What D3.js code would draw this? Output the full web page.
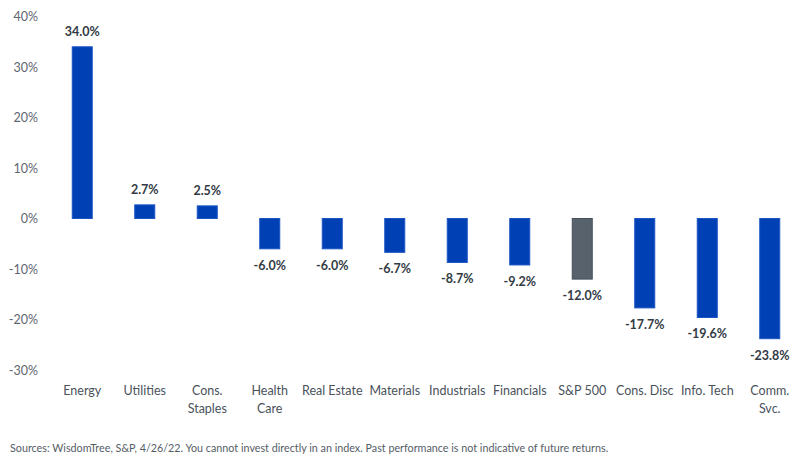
<!DOCTYPE html>
<html>
<head>
<meta charset="utf-8">
<script src="https://cdn.jsdelivr.net/npm/d3@7"></script>
<style>
  body { margin: 0; background: #fff; }
  text { font-family: "Source Sans Pro", "Lato", "Open Sans", sans-serif; }
</style>
</head>
<body>
<div id="chart"></div>
<script>
const categories = ['Energy', 'Utilities', 'Cons. Staples', 'Health Care', 'Real Estate', 'Materials',
  'Industrials', 'Financials', 'S&P 500', 'Cons. Disc', 'Info. Tech', 'Comm. Svc.'];
// label lines as shown under the axis
const categoryLines = [['Energy'], ['Utilities'], ['Cons.', 'Staples'], ['Health', 'Care'], ['Real Estate'],
  ['Materials'], ['Industrials'], ['Financials'], ['S&P 500'], ['Cons. Disc'], ['Info. Tech'], ['Comm.', 'Svc.']];
const returns = [34.0, 2.7, 2.5, -6.0, -6.0, -6.7, -8.7, -9.2, -12.0, -17.7, -19.6, -23.8];
const yTicks = [40, 30, 20, 10, 0, -10, -20, -30];
const footnote = 'Sources: WisdomTree, S&P, 4/26/22. You cannot invest directly in an index. Past performance is not indicative of future returns.';

const width = 800, height = 462;
const svg = d3.select('#chart').append('svg')
  .attr('width', width).attr('height', height);

const x = d3.scaleBand()
  .domain(categories)
  .range([51, 801])
  .paddingInner(0.68)
  .paddingOuter(0.34);

const y = d3.scaleLinear()
  .domain([-30, 40])
  .range([370, 16.5]);

// y axis labels
const yAxis = d3.axisLeft(y)
  .tickValues(yTicks)
  .tickFormat(d => d + '%')
  .tickSize(0)
  .tickPadding(0);

svg.append('g')
  .attr('transform', 'translate(38,0)')
  .call(yAxis)
  .call(g => g.select('.domain').remove())
  .call(g => g.selectAll('text')
    .attr('fill', '#5f6670')
    .style('font-size', '12.5px'));

// bars
svg.selectAll('rect.bar')
  .data(returns)
  .enter().append('rect')
  .attr('class', 'bar')
  .attr('x', (d, i) => x(categories[i]))
  .attr('width', x.bandwidth())
  .attr('y', d => y(Math.max(0, d)))
  .attr('height', d => Math.abs(y(d) - y(0)))
  .attr('fill', (d, i) => categories[i] === 'S&P 500' ? '#58626c' : '#0040b5')
  .attr('stroke', (d, i) => categories[i] === 'S&P 500' ? '#46505a' : '#1a55c4')
  .attr('stroke-width', 1);

// value labels
svg.selectAll('text.val')
  .data(returns)
  .enter().append('text')
  .attr('class', 'val')
  .attr('x', (d, i) => x(categories[i]) + x.bandwidth() / 2)
  .attr('y', d => d >= 0 ? y(d) - 11 : y(d) + 21)
  .attr('text-anchor', 'middle')
  .attr('fill', '#333b45')
  .style('font-size', '12.5px')
  .style('font-weight', 'bold')
  .text(d => d.toFixed(1) + '%');

// category labels
const cat = svg.selectAll('text.cat')
  .data(categoryLines)
  .enter().append('text')
  .attr('class', 'cat')
  .attr('x', (d, i) => x(categories[i]) + x.bandwidth() / 2)
  .attr('y', 395)
  .attr('text-anchor', 'middle')
  .attr('fill', '#4a525c')
  .style('font-size', '12.5px');

cat.selectAll('tspan')
  .data(d => d)
  .enter().append('tspan')
  .attr('x', function () { return d3.select(this.parentNode).attr('x'); })
  .attr('dy', (d, i) => i === 0 ? 0 : 18)
  .text(d => d);

// footnote
svg.append('text')
  .attr('x', 10)
  .attr('y', 452)
  .attr('fill', '#555d66')
  .style('font-size', '10.75px')
  .text(footnote);
</script>
</body>
</html>
